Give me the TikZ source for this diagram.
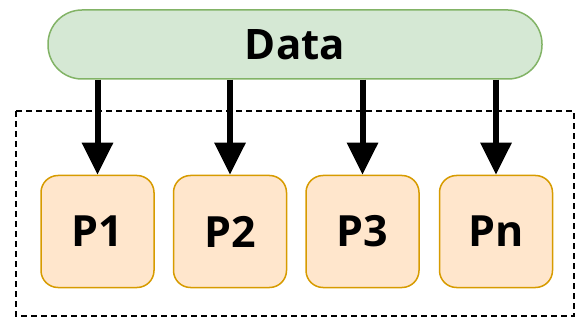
\documentclass[tikz,border=0pt]{standalone}
\usepackage{fontspec}
\setmainfont{Open Sans}
\usetikzlibrary{arrows.meta}
\begin{document}
\begin{tikzpicture}[x=1pt,y=-1pt,
  pill/.style={draw={rgb,255:red,130;green,179;blue,102}, fill={rgb,255:red,213;green,232;blue,212}, line width=1.5pt, rounded corners=34pt, minimum width=494pt, minimum height=69pt, font=\bfseries\fontsize{42}{50}\selectfont},
  pbox/.style={draw={rgb,255:red,215;green,155;blue,0}, fill={rgb,255:red,255;green,230;blue,204}, line width=1.5pt, rounded corners=17pt, minimum width=113pt, minimum height=112pt, font=\bfseries\fontsize{43}{50}\selectfont},
  flow/.style={line width=6pt, -{Triangle[width=30pt,length=32pt]}},
  group/.style={draw, line width=1.5pt, dash pattern=on 6pt off 4pt}]
\useasboundingbox (0,0) rectangle (583,320);
\draw[group] (16,111) rectangle (574,316);
\node[pill] (data) at (295,44.5) {Data};
\node[pbox] (p1) at (97.5,231.5) {P1};
\node[pbox] (p2) at (230,231.5) {P2};
\node[pbox] (p3) at (362.5,231.5) {P3};
\node[pbox] (pn) at (496,231.5) {Pn};
\foreach \p in {p1,p2,p3,pn}
  \draw[flow] (data.south -| \p.north) -- (\p.north);
\end{tikzpicture}
\end{document}
